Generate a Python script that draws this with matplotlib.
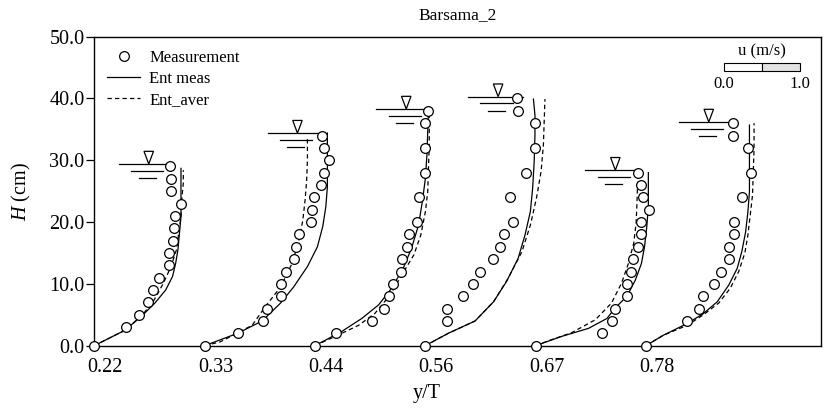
import numpy as np
import matplotlib
matplotlib.use("Agg")
import matplotlib.pyplot as plt
import matplotlib.transforms as mtrans

plt.rcParams['font.family'] = ['Liberation Serif', 'DejaVu Serif']
plt.rcParams['mathtext.fontset'] = 'custom'
plt.rcParams['mathtext.it'] = 'Liberation Serif:italic'
plt.rcParams['mathtext.rm'] = 'Liberation Serif'

# --- datos (u en m/s, H en cm) ---
estaciones = [2/9, 3/9, 4/9, 5/9, 6/9, 7/9]   # y/T de cada perfil

meas_h = [
    [0, 3, 5, 7, 9, 11, 13, 15, 17, 19, 21, 23, 25, 27, 29],
    [0, 2, 4, 6, 8, 10, 12, 14, 16, 18, 20, 22, 24, 26, 28, 30, 32, 34],
    [0, 2, 4, 6, 8, 10, 12, 14, 16, 18, 20, 24, 28, 32, 36, 38],
    [0, 4, 6, 8, 10, 12, 14, 16, 18, 20, 24, 28, 32, 36, 38, 40],
    [0, 2, 4, 6, 8, 10, 12, 14, 16, 18, 20, 22, 24, 26, 28],
    [0, 4, 6, 8, 10, 12, 14, 16, 18, 20, 24, 28, 32, 34, 36],
]
meas_u = [
    [0, .41, .58, .70, .77, .84, .97, .98, 1.02, 1.04, 1.05, 1.13, 1.00, 1.00, .99],
    [0, .43, .76, .81, 1.00, 1.00, 1.06, 1.17, 1.19, 1.23, 1.39, 1.40, 1.42, 1.52, 1.56, 1.62, 1.56, 1.53],
    [0, .28, .74, .90, .96, 1.02, 1.12, 1.14, 1.20, 1.23, 1.33, 1.36, 1.43, 1.44, 1.44, 1.47],
    [0, .28, .28, .49, .62, .72, .88, .97, 1.03, 1.15, 1.11, 1.31, 1.43, 1.43, 1.21, 1.20],
    [0, .86, .99, 1.04, 1.19, 1.19, 1.24, 1.27, 1.34, 1.38, 1.37, 1.48, 1.40, 1.38, 1.34],
    [0, .54, .69, .74, .89, .98, 1.08, 1.09, 1.15, 1.15, 1.25, 1.37, 1.33, 1.14, 1.14],
]

meas_ent_h = [
    [0, 2.5, 4.7, 6.9, 9.0, 11.2, 13.3, 15.5, 18.2, 20.9, 23.6, 26.3, 28.7],
    [0, 2.0, 4.0, 6.9, 9.5, 12.8, 16.0, 19.3, 22.5, 25.7, 29.0, 32.8, 34.4],
    [0, 2.3, 4.4, 6.6, 9.3, 12.5, 15.8, 19.5, 23.3, 27.1, 30.9, 34.6, 38.1],
    [0, 2.0, 4.0, 7.1, 10.4, 14.1, 17.9, 21.7, 25.5, 29.8, 34.1, 37.3, 39.9],
    [0, 1.5, 2.8, 4.4, 6.0, 8.0, 10.6, 13.3, 16.0, 19.3, 22.5, 25.7, 28.0],
    [0, 1.7, 3.6, 5.2, 7.1, 9.8, 12.5, 15.2, 18.4, 21.7, 24.9, 28.2, 31.9, 35.7],
]
meas_ent_u = [
    [0, .40, .61, .79, .93, 1.02, 1.06, 1.09, 1.11, 1.13, 1.13, 1.13, 1.13],
    [0, .43, .75, .99, 1.16, 1.34, 1.47, 1.54, 1.58, 1.60, 1.60, 1.60, 1.60],
    [0, .35, .61, .83, 1.00, 1.15, 1.26, 1.35, 1.40, 1.44, 1.46, 1.47, 1.48],
    [0, .30, .65, .89, 1.06, 1.21, 1.30, 1.37, 1.40, 1.42, 1.43, 1.43, 1.41],
    [0, .34, .69, .93, 1.03, 1.19, 1.30, 1.38, 1.42, 1.45, 1.47, 1.47, 1.47],
    [0, .23, .54, .75, .93, 1.08, 1.19, 1.25, 1.30, 1.33, 1.35, 1.35, 1.35, 1.35],
]

aver_ent_h = [
    [0, 2.5, 5.0, 7.4, 10.1, 12.8, 15.5, 18.2, 20.9, 23.6, 26.3, 28.4],
    [0, 0.6, 2.0, 3.3, 6.3, 9.5, 13.3, 17.1, 20.3, 23.6, 26.8, 30.0, 33.6],
    [0, 2.0, 3.3, 5.2, 8.2, 11.4, 14.7, 17.9, 21.7, 24.9, 28.7, 32.5, 37.3],
    [0, 2.0, 4.0, 7.1, 10.9, 15.2, 19.5, 23.9, 28.2, 32.5, 36.2, 39.9],
    [0, 0.8, 2.1, 4.2, 6.9, 10.1, 13.3, 16.6, 19.8, 22.5, 26.3, 27.8],
    [0, 1.7, 3.3, 5.0, 6.9, 9.3, 12.0, 15.0, 17.9, 21.1, 24.4, 28.2, 31.9, 36.0],
]
aver_ent_u = [
    [0, .40, .63, .78, .90, 1.00, 1.07, 1.10, 1.13, 1.14, 1.16, 1.16],
    [0, .20, .42, .62, .79, .99, 1.14, 1.23, 1.28, 1.31, 1.33, 1.34, 1.34],
    [0, .35, .57, .78, .98, 1.13, 1.29, 1.38, 1.44, 1.47, 1.48, 1.49, 1.49],
    [0, .30, .65, .89, 1.08, 1.26, 1.37, 1.45, 1.51, 1.54, 1.55, 1.56],
    [0, .17, .47, .78, .99, 1.12, 1.21, 1.28, 1.31, 1.32, 1.33, 1.33],
    [0, .23, .54, .75, .95, 1.10, 1.21, 1.29, 1.33, 1.36, 1.39, 1.40, 1.41, 1.41],
]

# nivel de la superficie libre y extremo izquierdo del simbolo (u)
nivel_agua = [29.4, 34.4, 38.3, 40.3, 28.4, 36.2]
agua_u_izq = [0.32, 0.82, 0.80, 0.56, 0.65, 0.43]

ESCALA = 0.0773   # unidades y/T por 1 m/s

fig = plt.figure(figsize=(8.24, 4.09), dpi=100)
ax = fig.add_axes([0.1144, 0.1548, 0.8816, 0.7555])

for k, x0 in enumerate(estaciones):
    xm = x0 + np.array(meas_u[k]) * ESCALA
    ax.plot(xm, meas_h[k], 'o', mfc='white', mec='black', mew=0.9, ms=7,
            clip_on=False, zorder=3, label='Measurement' if k == 0 else None)
    xs = x0 + np.array(meas_ent_u[k]) * ESCALA
    ax.plot(xs, meas_ent_h[k], '-', color='black', lw=0.9,
            label='Ent meas' if k == 0 else None)
    xd = x0 + np.array(aver_ent_u[k]) * ESCALA
    ax.plot(xd, aver_ent_h[k], '--', color='black', lw=0.9, dashes=(3.5, 2.5),
            label='Ent_aver' if k == 0 else None)

    # simbolo de superficie libre
    xa = x0 + agua_u_izq[k] * ESCALA
    h = nivel_agua[k]
    ax.plot([xa, xa + 0.71 * ESCALA], [h, h], color='black', lw=0.9)
    ax.plot([xa + 0.16 * ESCALA, xa + 0.58 * ESCALA], [h - 1.1, h - 1.1], color='black', lw=0.9)
    ax.plot([xa + 0.26 * ESCALA, xa + 0.48 * ESCALA], [h - 2.3, h - 2.3], color='black', lw=0.9)
    xt = xa + 0.39 * ESCALA
    ax.fill([xt - 0.062 * ESCALA, xt + 0.062 * ESCALA, xt], [h + 2.05, h + 2.05, h],
            facecolor='white', edgecolor='black', lw=0.9)

# barra de escala u (m/s)
xb = 0.856
ax.fill([xb, xb + 0.5 * ESCALA, xb + 0.5 * ESCALA, xb], [44.5, 44.5, 45.7, 45.7],
        facecolor='white', edgecolor='black', lw=0.8)
ax.fill([xb + 0.5 * ESCALA, xb + ESCALA, xb + ESCALA, xb + 0.5 * ESCALA], [44.5, 44.5, 45.7, 45.7],
        facecolor='#e2e2e2', edgecolor='black', lw=0.8)
ax.text(xb, 43.7, '0.0', ha='center', va='top', fontsize=12)
ax.text(xb + ESCALA, 43.7, '1.0', ha='center', va='top', fontsize=12)
ax.text(xb + 0.5 * ESCALA, 46.3, 'u (m/s)', ha='center', va='bottom', fontsize=12)

ax.set_xlim(2/9, 0.9539)
ax.set_ylim(0, 50)
ax.set_xticks(estaciones)
ax.set_xticklabels([f'{v:.2f}' for v in estaciones])
ax.set_yticks(np.arange(0, 51, 10))
ax.set_yticklabels([f'{v:.1f}' for v in np.arange(0, 51, 10)])
ax.tick_params(axis='y', direction='out', length=6, width=0.9, labelsize=14.5, pad=1)
ax.tick_params(axis='x', length=0, labelsize=14.5, pad=9)
# las etiquetas del eje x estan algo desplazadas a la derecha
desplaza = mtrans.ScaledTranslation(11 / 100, 0, fig.dpi_scale_trans)
for lab in ax.get_xticklabels():
    lab.set_transform(lab.get_transform() + desplaza)
for s in ax.spines.values():
    s.set_linewidth(1.0)

ax.set_title('Barsama_2', fontsize=12.5, pad=13)
ax.set_xlabel('y/T', fontsize=14.5)
ax.xaxis.set_label_coords(0.458, -0.125)
ax.set_ylabel('$H$ (cm)', fontsize=14.5, labelpad=12)

ax.legend(loc='upper left', bbox_to_anchor=(0.0175, 0.958), frameon=False, fontsize=12,
          handlelength=2.0, handletextpad=0.55, labelspacing=0.3, borderaxespad=0, borderpad=0)

fig.savefig('out.png', dpi=100)
